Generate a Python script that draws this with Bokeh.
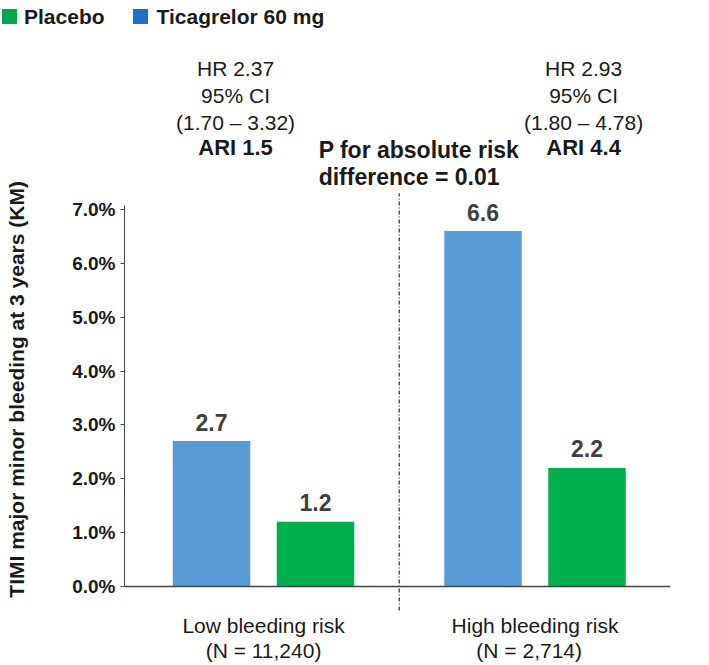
import math
from bokeh.plotting import figure
from bokeh.layouts import column, row
from bokeh.models import Range1d, FixedTicker, Span, Div
from bokeh.core.properties import value
from bokeh.embed import file_html
from bokeh.resources import INLINE

# ---------------- data ----------------
groups = ["Low bleeding risk", "High bleeding risk"]
group_n = ["(N = 11,240)", "(N  =  2,714)"]
series = ["Ticagrelor 60 mg", "Placebo"]
ticagrelor = [2.7, 6.6]
placebo = [1.2, 2.2]
hr_lines = [["HR 2.37", "95% CI", "(1.70 \u2013 3.32)"],
            ["HR 2.93", "95% CI", "(1.80 \u2013 4.78)"]]
ari_labels = ["ARI 1.5", "ARI 4.4"]
p_lines = ["P for absolute risk", "difference = 0.01"]
y_ticks = [0, 1, 2, 3, 4, 5, 6, 7]
y_tick_labels = ["0.0%", "1.0%", "2.0%", "3.0%", "4.0%", "5.0%", "6.0%", "7.0%"]
y_title = "TIMI major minor bleeding at 3 years (KM)"

# ---------------- styles ----------------
FONT = value("Liberation Sans")
BLUE = "#5B9BD5"
GREEN = "#00B050"
LEG_BLUE = "#1F70C1"
LEG_GREEN = "#00A650"
TXT = "#1a1a1a"
VAL = "#404040"

idx = list(range(len(groups)))
off = 0.1915
bw = 0.2855

# ---------------- legend strip ----------------
sq = "display:inline-block;width:15px;height:15px;"
legend_html = (
    '<div style="display:flex;align-items:center;height:33px;'
    "font-family:'Liberation Sans';font-size:21px;font-weight:bold;color:#1a1a1a;"
    'white-space:nowrap;">'
    f'<span style="{sq}background:{LEG_GREEN};margin-left:2px;margin-right:7px;"></span>'
    f'<span>{series[1]}</span>'
    f'<span style="{sq}background:{LEG_BLUE};margin-left:28px;margin-right:9px;"></span>'
    f'<span>{series[0]}</span></div>'
)
lg = Div(text=legend_html, width=709, height=33, margin=0)

# ---------------- main chart ----------------
y_rng = Range1d(-1.467, 10.267)
p = figure(width=677, height=632, output_backend="svg", toolbar_location=None,
           x_axis_type=None, x_range=Range1d(-0.512, 1.499), y_range=y_rng,
           min_border_left=92, min_border_right=39, min_border_top=0, min_border_bottom=0)
p.outline_line_color = None
p.ygrid.visible = False

x_ti = [i - off for i in idx]
x_pl = [i + off for i in idx]
p.vbar(x=x_ti, top=ticagrelor, width=bw, color=BLUE, line_color=None)
p.vbar(x=x_pl, top=placebo, width=bw, color=GREEN, line_color=None)

# baseline
p.add_layout(Span(location=0, dimension="width", line_color="#444444", line_width=1.5))

# divider between groups
mid = (idx[0] + idx[1]) / 2
p.segment(x0=[mid], y0=[-0.446], x1=[mid], y1=[7.3], line_color="#555555",
          line_width=1.5, line_dash="4 2 1 2")

# value labels
p.text(x=x_ti + x_pl, y=ticagrelor + placebo,
       text=[f"{v:.1f}" for v in ticagrelor + placebo],
       text_font=FONT, text_font_size="23px", text_font_style="bold",
       text_color=VAL, text_align="center", text_baseline="middle", y_offset=-19)

# HR annotations
block_x = [-0.103, 1.179]
line_y = [9.618, 9.116, 8.615]
for bx, lines in zip(block_x, hr_lines):
    p.text(x=[bx] * len(lines), y=line_y, text=lines, text_font=FONT,
           text_font_size="21px", text_color=TXT, text_align="center",
           text_baseline="middle")
p.text(x=block_x, y=[8.151, 8.151], text=ari_labels, text_font=FONT,
       text_font_size="22px", text_font_style="bold", text_color=TXT,
       text_align="center", text_baseline="middle")
p.text(x=[0.203, 0.203], y=[8.095, 7.594], text=p_lines, text_font=FONT,
       text_font_size="23px", text_font_style="bold", text_color=TXT,
       text_align="left", text_baseline="middle")

# category labels
p.text(x=idx, y=[-0.724] * len(idx), text=groups, text_font=FONT,
       text_font_size="21px", text_color=TXT, text_align="center", text_baseline="middle")
p.text(x=idx, y=[-1.188] * len(idx), text=group_n, text_font=FONT,
       text_font_size="21px", text_color=TXT, text_align="center", text_baseline="middle")

# y axis
ax = p.yaxis[0]
ax.ticker = FixedTicker(ticks=y_ticks)
ax.major_label_overrides = {t: l for t, l in zip(y_ticks, y_tick_labels)}
ax.bounds = (0, 7.08)
ax.minor_tick_line_color = None
ax.major_tick_out = 4
ax.major_tick_in = 0
ax.axis_line_color = "#444444"
ax.major_tick_line_color = "#444444"
ax.major_label_text_font = "Liberation Sans"
ax.major_label_text_font_size = "19px"
ax.major_label_text_font_style = "bold"
ax.major_label_text_color = TXT
ax.major_label_standoff = 5

# ---------------- y-axis title strip (shares the y range) ----------------
tf = figure(width=32, height=632, output_backend="svg", toolbar_location=None,
            x_axis_type=None, y_axis_type=None, x_range=Range1d(0, 1), y_range=y_rng,
            min_border_left=0, min_border_right=0, min_border_top=0, min_border_bottom=0)
tf.outline_line_color = None
tf.text(x=[0.5], y=[3.66], text=[y_title], angle=math.pi / 2, text_font=FONT,
        text_font_size="21px", text_font_style="bold", text_color=TXT,
        text_align="center", text_baseline="middle")

layout = column(lg, row(tf, p, spacing=0), spacing=0)
open("out.html", "w").write(file_html(layout, INLINE))
